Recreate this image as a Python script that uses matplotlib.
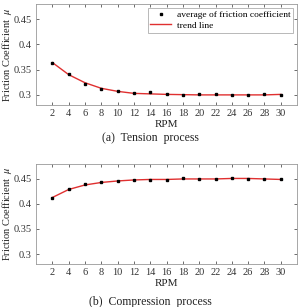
import matplotlib
matplotlib.use("Agg")
import matplotlib.pyplot as plt

plt.rcParams["font.family"] = ["Liberation Serif", "DejaVu Serif"]
plt.rcParams["mathtext.fontset"] = "stix"

rpm = [2, 4, 6, 8, 10, 12, 14, 16, 18, 20, 22, 24, 26, 28, 30]

tension_avg = [0.363, 0.342, 0.322, 0.312, 0.307, 0.304, 0.306, 0.301, 0.300,
               0.301, 0.301, 0.299, 0.300, 0.302, 0.300]
tension_trend = [0.364, 0.340, 0.324, 0.313, 0.307, 0.303, 0.302, 0.301, 0.3005,
                 0.300, 0.300, 0.300, 0.300, 0.300, 0.301]

compress_avg = [0.412, 0.430, 0.439, 0.444, 0.446, 0.447, 0.447, 0.448, 0.451,
                0.450, 0.450, 0.451, 0.450, 0.450, 0.449]
compress_trend = [0.413, 0.429, 0.438, 0.443, 0.446, 0.448, 0.449, 0.449, 0.450,
                  0.450, 0.450, 0.451, 0.451, 0.450, 0.449]

yticks = [0.3, 0.35, 0.4, 0.45]
ytick_labels = ["0.3", "0.35", "0.4", "0.45"]

fig = plt.figure(figsize=(3.01, 3.07), dpi=100)
ax_a = fig.add_axes([0.120, 0.658, 0.867, 0.329])
ax_b = fig.add_axes([0.120, 0.140, 0.867, 0.326])


def style(ax, avg, trend, legend):
    ax.plot(rpm, trend, color="#e03030", linewidth=1.0, label="trend line", zorder=2)
    ax.plot(rpm, avg, linestyle="none", marker="s", markersize=1.8, color="black",
            label="average of friction coefficient", zorder=3)
    ax.set_xlim(0, 32)
    ax.set_ylim(0.28, 0.48)
    ax.set_xticks(rpm)
    ax.set_yticks(yticks)
    ax.set_yticklabels(ytick_labels)
    ax.tick_params(direction="in", length=2.5, width=0.5, labelsize=7.5, colors="#333333",
                   top=True, right=True, pad=3)
    for sp in ax.spines.values():
        sp.set_color("#999999")
        sp.set_linewidth(0.6)
    ax.set_xlabel("RPM", fontsize=8, labelpad=1, color="#222222")
    ax.set_ylabel(r"Friction Coefficient  $\mu$", fontsize=7.5, color="#222222", va="center")
    ax.yaxis.set_label_coords(-0.11, 0.5)
    if legend:
        h, l = ax.get_legend_handles_labels()
        leg = ax.legend(h[::-1], l[::-1], loc="upper right", fontsize=6.8, frameon=True,
                        fancybox=False, borderpad=0.3, labelspacing=0.2, handlelength=2.2,
                        handletextpad=0.6, borderaxespad=0.4)
        leg.get_frame().set_edgecolor("#999999")
        leg.get_frame().set_linewidth(0.6)


style(ax_a, tension_avg, tension_trend, True)
style(ax_b, compress_avg, compress_trend, False)

fig.text(0.5, 0.55, "(a)  Tension  process", ha="center", va="center", fontsize=8.5, color="#222222")
fig.text(0.5, 0.015, "(b)  Compression  process", ha="center", va="center", fontsize=8.5, color="#222222")

fig.savefig("out.png", dpi=100)
